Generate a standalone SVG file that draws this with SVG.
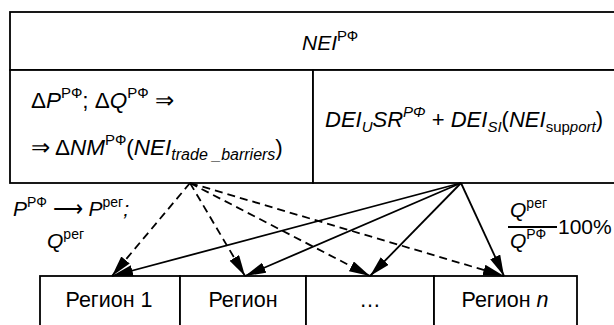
<svg xmlns="http://www.w3.org/2000/svg" width="614" height="325" viewBox="0 0 614 325">
<style>
text{font-family:"Liberation Sans",Arial,sans-serif;fill:#000;}
.box{fill:#fff;stroke:#000;stroke-width:1.8;}
.it{font-style:italic;}
.ln{stroke:#000;stroke-width:1.8;fill:none;}
.dash{stroke-dasharray:8,5;}
</style>
<defs>
<marker id="ah" markerUnits="userSpaceOnUse" markerWidth="22" markerHeight="12" refX="21" refY="5.5" orient="auto">
<path d="M0,0 L21,5.5 L0,11 z" fill="#000"/>
</marker>
</defs>
<rect width="614" height="325" fill="#fff"/>
<g id="top">
<rect class="box" x="10" y="12" width="610" height="58"/>
<text x="302" y="50" font-size="21"><tspan class="it">NEI</tspan><tspan font-size="15" dy="-9">РФ</tspan></text>
</g>
<g id="left-mid">
<rect class="box" x="10" y="70" width="303" height="113"/>
<text x="31" y="108" font-size="22.5">Δ<tspan class="it">P</tspan><tspan font-size="15" dy="-10">РФ</tspan><tspan dy="10">; Δ</tspan><tspan class="it">Q</tspan><tspan font-size="15" dy="-10">РФ</tspan><tspan dy="10">  ⇒</tspan></text>
<text x="31" y="155" font-size="22.5">⇒ Δ<tspan class="it">NM</tspan><tspan font-size="15" dy="-10">РФ</tspan><tspan dy="10">(</tspan><tspan class="it">NEI</tspan><tspan class="it" font-size="16" dy="5">trade _barriers</tspan><tspan dy="-5">)</tspan></text>
</g>
<g id="right-mid">
<rect class="box" x="313" y="70" width="307" height="113"/>
<text x="325" y="127" font-size="22"><tspan class="it">DEI</tspan><tspan class="it" font-size="15" dy="5">U</tspan><tspan class="it" dy="-5">SR</tspan><tspan class="it" font-size="15" dy="-10">РΦ</tspan><tspan dy="10"> + </tspan><tspan class="it">DEI</tspan><tspan class="it" font-size="15" dy="5">SI</tspan><tspan dy="-5">(</tspan><tspan class="it">NEI</tspan><tspan font-size="15" dy="5">sup</tspan><tspan class="it" font-size="15">port</tspan><tspan dy="-5">)</tspan></text>
</g>
<g id="region1">
<rect class="box" x="40" y="276" width="140" height="60"/>
<text x="109" y="307" font-size="21.5" text-anchor="middle">Регион 1</text>
</g>
<g id="region2">
<rect class="box" x="180" y="276" width="126" height="60"/>
<text x="243" y="307" font-size="21.5" text-anchor="middle">Регион</text>
</g>
<g id="region-dots">
<rect class="box" x="306" y="276" width="128" height="60"/>
<text x="370" y="307" font-size="21.5" text-anchor="middle">…</text>
</g>
<g id="region-n">
<rect class="box" x="434" y="276" width="143" height="60"/>
<text x="505" y="307" font-size="21.5" text-anchor="middle">Регион <tspan class="it">n</tspan></text>
</g>
<g id="labels">
<text x="13" y="216" font-size="21"><tspan class="it">P</tspan><tspan font-size="14" dy="-9">РФ</tspan><tspan dy="9"> ⟶ </tspan><tspan class="it">P</tspan><tspan font-size="14" dy="-9">рег</tspan><tspan class="it" dy="9">;</tspan></text>
<text x="47" y="248" font-size="21"><tspan class="it">Q</tspan><tspan font-size="14" dy="-9">рег</tspan></text>
<text x="510" y="217" font-size="21"><tspan class="it">Q</tspan><tspan font-size="14" dy="-9">рег</tspan></text>
<line class="ln" x1="508" y1="227" x2="557" y2="227" stroke-width="1.3"/>
<text x="510" y="248" font-size="21"><tspan class="it">Q</tspan><tspan font-size="14" dy="-9">РФ</tspan></text>
<text x="558" y="234" font-size="21">100%</text>
</g>
<g id="connectors">
<line class="ln dash" x1="190" y1="183" x2="112" y2="276" marker-end="url(#ah)"/>
<line class="ln dash" x1="190" y1="183" x2="245" y2="276" marker-end="url(#ah)"/>
<line class="ln dash" x1="190" y1="183" x2="370" y2="276" marker-end="url(#ah)"/>
<line class="ln dash" x1="190" y1="183" x2="504" y2="276" marker-end="url(#ah)"/>
<line class="ln" x1="461" y1="183" x2="112" y2="276" marker-end="url(#ah)"/>
<line class="ln" x1="461" y1="183" x2="245" y2="276" marker-end="url(#ah)"/>
<line class="ln" x1="461" y1="183" x2="370" y2="276" marker-end="url(#ah)"/>
<line class="ln" x1="461" y1="183" x2="504" y2="276" marker-end="url(#ah)"/>
</g>
</svg>
